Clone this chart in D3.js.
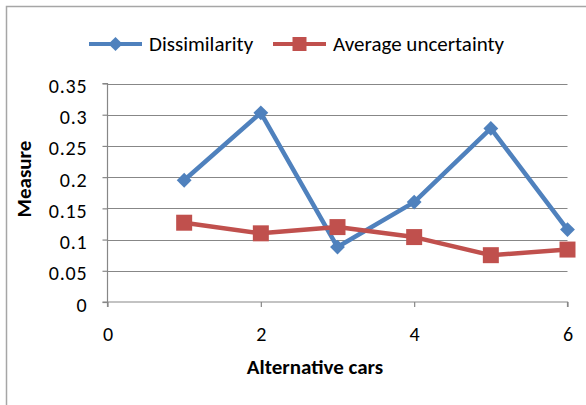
<!DOCTYPE html>
<html>
<head>
<meta charset="utf-8">
<script src="https://cdn.jsdelivr.net/npm/d3@7"></script>
<style>
  html, body { margin: 0; padding: 0; background: #fff; }
  svg { display: block; }
  text { font-family: Carlito, Lato, "Open Sans", "Liberation Sans", sans-serif; fill: #000; }
</style>
</head>
<body>
<svg id="chart" width="586" height="405"></svg>
<script>
// Alternative car index on the x axis
const cars = [1, 2, 3, 4, 5, 6];
const dissimilarity = [0.195, 0.303, 0.088, 0.160, 0.278, 0.116];
const avgUncertainty = [0.127, 0.110, 0.120, 0.104, 0.075, 0.084];
const xTicks = [0, 2, 4, 6];
const yTicks = [0, 0.05, 0.1, 0.15, 0.2, 0.25, 0.3, 0.35];
const seriesNames = ["Dissimilarity", "Average uncertainty"];

const svg = d3.select("#chart");
const blue = "#4F81BD", red = "#C0504D", grid = "#878787";

// chart frame (extends past right/bottom edges)
svg.append("rect").attr("x", 6.5).attr("y", 6.5).attr("width", 600).attr("height", 420)
  .attr("fill", "none").attr("stroke", "#a6a6a6").attr("stroke-width", 1.5);

const x = d3.scaleLinear().domain([0, 6]).range([107.5, 567.5]);
const y = d3.scaleLinear().domain([0, 0.35]).range([302, 83.5]);

// horizontal gridlines
svg.append("g").selectAll("line").data(yTicks.slice(1)).join("line")
  .attr("x1", x(0)).attr("x2", x(6))
  .attr("y1", d => Math.round(y(d)) + 0.5).attr("y2", d => Math.round(y(d)) + 0.5)
  .attr("stroke", grid).attr("stroke-width", 1.2);

// y axis
const yAxis = d3.axisLeft(y).tickValues(yTicks).tickSize(5).tickPadding(15)
  .tickFormat(d => d3.format("")(+d.toFixed(2)));
const gy = svg.append("g").attr("transform", `translate(${x(0)},0)`).call(yAxis);
gy.select(".domain").attr("stroke", grid).attr("stroke-width", 1.2).attr("d", `M-5,${y(0.35)}H0V${y(0)+5}`);
gy.selectAll(".tick line").attr("stroke", grid).attr("stroke-width", 1.2);
gy.selectAll(".tick text").attr("font-size", 20).attr("font-family", null)
  .attr("letter-spacing", 0.8).attr("dy", "0.45em");

// x axis
const xAxis = d3.axisBottom(x).tickValues(xTicks).tickSize(5).tickPadding(20).tickFormat(d3.format("d"));
const gx = svg.append("g").attr("transform", `translate(0,${y(0)})`).call(xAxis);
gx.select(".domain").attr("stroke", grid).attr("stroke-width", 1.2).attr("d", `M${x(0)-5},0H${x(6)}V5`);
gx.selectAll(".tick line").attr("stroke", grid).attr("stroke-width", 1.2);
gx.selectAll(".tick text").attr("font-size", 20).attr("font-family", null);

// axis titles
svg.append("text").attr("x", 315).attr("y", 374).attr("text-anchor", "middle")
  .attr("font-size", 21).attr("font-weight", "bold").text("Alternative cars");
svg.append("text").attr("transform", "translate(31,179) rotate(-90)").attr("text-anchor", "middle")
  .attr("font-size", 21).attr("font-weight", "bold").text("Measure");

const line = d3.line().x((d, i) => x(cars[i])).y(d => y(d));

function drawSeries(values, color, size, rot) {
  svg.append("path").datum(values).attr("d", line).attr("fill", "none")
    .attr("stroke", color).attr("stroke-width", 4.5).attr("stroke-linejoin", "round");
  svg.append("g").selectAll("path").data(values).join("path")
    .attr("d", d3.symbol().type(d3.symbolSquare).size(size))
    .attr("transform", (d, i) => `translate(${x(cars[i])},${y(d)}) rotate(${rot})`)
    .attr("fill", color);
}
drawSeries(dissimilarity, blue, 110, 45);
drawSeries(avgUncertainty, red, 256, 0);

// legend
const legend = svg.append("g");
const items = [
  { name: seriesNames[0], color: blue, x0: 89, x1: 142, tx: 149, rot: 45, size: 100 },
  { name: seriesNames[1], color: red, x0: 273, x1: 326, tx: 333, rot: 0, size: 196 }
];
items.forEach(it => {
  legend.append("line").attr("x1", it.x0).attr("x2", it.x1).attr("y1", 44).attr("y2", 44)
    .attr("stroke", it.color).attr("stroke-width", 4);
  legend.append("path").attr("d", d3.symbol().type(d3.symbolSquare).size(it.size))
    .attr("transform", `translate(${(it.x0 + it.x1) / 2},44) rotate(${it.rot})`).attr("fill", it.color);
  legend.append("text").attr("x", it.tx).attr("y", 51).attr("font-size", 21).text(it.name);
});
</script>
</body>
</html>
